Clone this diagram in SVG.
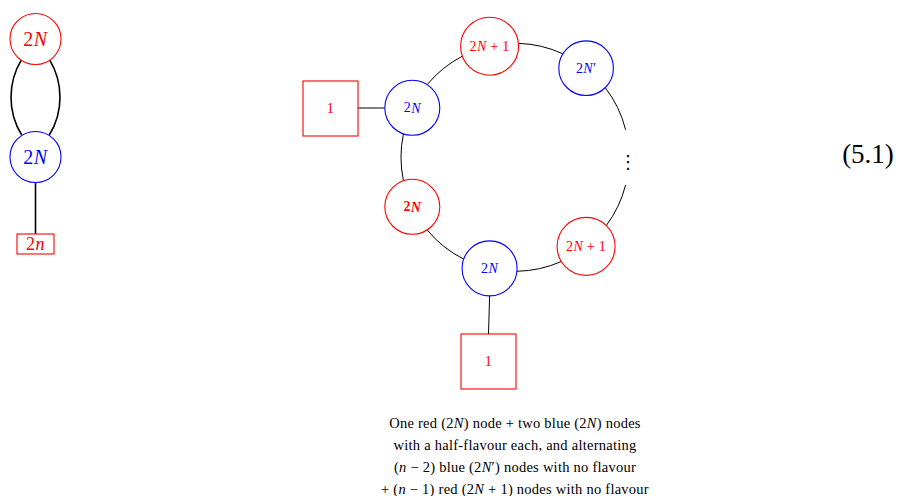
<svg xmlns="http://www.w3.org/2000/svg" width="898" height="496" viewBox="0 0 898 496">
<style>
text{font-family:"Liberation Serif","DejaVu Serif",serif;text-anchor:middle;dominant-baseline:central}
.i{font-style:italic}
.red{fill:#ff0000}.blue{fill:#0000ff}
.nr{fill:#fff;stroke:#ff0000;stroke-width:1.1}
.nb{fill:#fff;stroke:#0000ff;stroke-width:1.1}
.e{fill:none;stroke:#000;stroke-width:1}
.e2{fill:none;stroke:#000;stroke-width:1.6}
.big{font-size:20px;letter-spacing:0.5px}
.sm{font-size:14px;letter-spacing:0.3px}
.cap{font-size:14.5px;letter-spacing:0.25px;fill:#000}
</style>
<g id="connectors">
<path class="e2" d="M21.7,59.3 A72.3,72.3 0 0 0 21.7,135"/>
<path class="e2" d="M49.3,59.3 A72.3,72.3 0 0 1 49.3,135"/>
<path class="e2" d="M35.5,182.5 L35.5,234"/>
<path class="e" d="M427.12,84.68 A114,114 0 0 1 462.41,56.16"/>
<path class="e" d="M518.48,43.36 A114,114 0 0 1 562.85,53.82"/>
<path class="e" d="M605.22,87.63 A114,114 0 0 1 625.61,129.72"/>
<path class="e" d="M625.61,184.88 A114,114 0 0 1 606.26,225.63"/>
<path class="e" d="M561.3,261.47 A114,114 0 0 1 516.99,271.28"/>
<path class="e" d="M463.73,259.12 A114,114 0 0 1 427.12,229.92"/>
<path class="e" d="M403.43,180.7 A114,114 0 0 1 403.43,133.9"/>
<path class="e" d="M358,108 L384.8,108"/>
<path class="e" d="M489.6,296 L488.5,334"/>
</g>
<g id="left-red">
<circle class="nr" cx="35.5" cy="39" r="25.5"/>
<text class="big red" x="35.5" y="39">2<tspan class="i">N</tspan></text>
</g>
<g id="left-blue">
<circle class="nb" cx="35.5" cy="157" r="25.5"/>
<text class="big blue" x="35.5" y="157">2<tspan class="i">N</tspan></text>
</g>
<g id="left-flavour">
<rect x="17" y="234" width="37" height="20" fill="#fff" stroke="#ff0000" stroke-width="1.1"/>
<text class="red" x="35.5" y="244" style="font-size:18px;letter-spacing:0.5px">2<tspan class="i">n</tspan></text>
</g>
<g id="ring-top">
<circle class="nr" cx="489.6" cy="46.2" r="29"/>
<text class="sm red" x="489.6" y="46.2">2<tspan class="i">N</tspan> + 1</text>
</g>
<g id="ring-prime">
<circle class="nb" cx="586.1" cy="68.2" r="27.3"/>
<text class="sm blue" x="586.1" y="68.2">2<tspan class="i">N</tspan>′</text>
</g>
<g id="ring-dots">
<text x="628" y="161" style="font-family:'DejaVu Sans',sans-serif;font-size:18px" fill="#000">⋮</text>
</g>
<g id="ring-br">
<circle class="nr" cx="586.1" cy="246.4" r="29"/>
<text class="sm red" x="586.1" y="246.4">2<tspan class="i">N</tspan> + 1</text>
</g>
<g id="ring-bottom">
<circle class="nb" cx="489.6" cy="268.4" r="27.5"/>
<text class="sm blue" x="489.6" y="268.4">2<tspan class="i">N</tspan></text>
</g>
<g id="ring-red">
<circle class="nr" cx="412.3" cy="206.8" r="27.5" stroke-width="1.5"/>
<text class="sm red" x="412.3" y="206.8" font-weight="bold">2<tspan class="i">N</tspan></text>
</g>
<g id="ring-left">
<circle class="nb" cx="412.3" cy="107.8" r="27.5"/>
<text class="sm blue" x="412.3" y="107.8">2<tspan class="i">N</tspan></text>
</g>
<g id="flavour-left">
<rect x="303" y="81" width="55" height="55" fill="#fff" stroke="#ff0000" stroke-width="1.1"/>
<text class="sm red" x="330.5" y="108.5">1</text>
</g>
<g id="flavour-bottom">
<rect x="461" y="334" width="55" height="55" fill="#fff" stroke="#ff0000" stroke-width="1.1"/>
<text class="sm red" x="488.5" y="361.5">1</text>
</g>
<g id="caption">
<text class="cap" x="515" y="423">One red (2<tspan class="i">N</tspan>) node + two blue (2<tspan class="i">N</tspan>) nodes</text>
<text class="cap" x="515" y="445">with a half-flavour each, and alternating</text>
<text class="cap" x="515" y="467">(<tspan class="i">n</tspan> − 2) blue (2<tspan class="i">N</tspan>′) nodes with no flavour</text>
<text class="cap" x="515" y="489">+ (<tspan class="i">n</tspan> − 1) red (2<tspan class="i">N</tspan> + 1) nodes with no flavour</text>
</g>
<g id="eqnum">
<text x="868" y="154" style="font-size:27px" fill="#000">(5.1)</text>
</g>
</svg>
